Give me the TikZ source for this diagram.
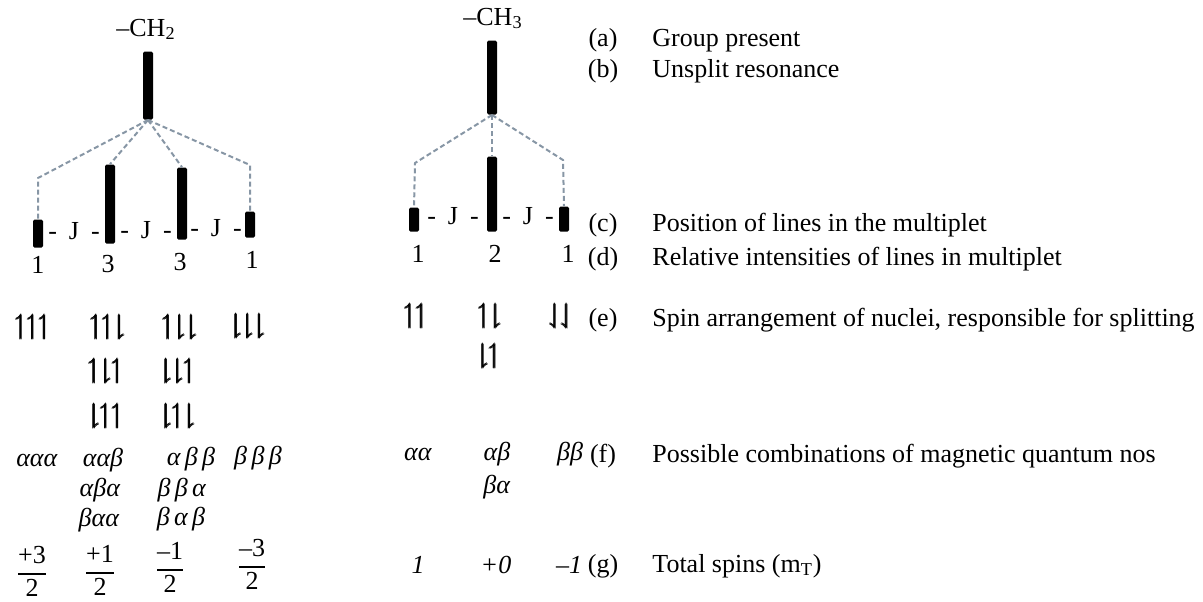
\documentclass[tikz,border=0pt]{standalone}
\usepackage{amsmath, amssymb}
\usepackage{fontspec}
\setmainfont{Liberation Serif}
\usetikzlibrary{calc}

\definecolor{linkgray}{RGB}{135,150,165}
\newcommand{\spU}{\pmb{\upharpoonleft}}
\newcommand{\spD}{\pmb{\downharpoonright}}
\newcommand{\spL}{\pmb{\downharpoonleft}}
\newcommand{\jlab}{-\hspace{6pt}J\hspace{6pt}-}

\tikzset{
  peak/.style={fill=black, rounded corners=0.8pt, inner sep=0pt, minimum width=5pt, anchor=south},
  link/.style={linkgray, line width=1pt, dash pattern=on 2.5pt off 1.5pt},
  txt/.style={font=\fontsize{13}{15}\selectfont, inner sep=0pt, text height=0.75em, text depth=0.25em},
  item/.style={txt, anchor=west},
  spin/.style={font=\fontsize{14}{16}\selectfont, inner sep=0pt},
}

\begin{document}
\begin{tikzpicture}[x=0.5pt, y=-0.5pt]
    \useasboundingbox (0,0) rectangle (1203,601);

    % -CH2 group: quartet
    \node[txt] (g2) at (146,31) {–CH\textsubscript{2}};
    \node[peak, minimum height=34pt] (u2) at (148,120) {};
    \node[peak, minimum height=14pt] (p21) at (38,248) {};
    \node[peak, minimum height=39.5pt] (p22) at (110,244) {};
    \node[peak, minimum height=36pt] (p23) at (182,240) {};
    \node[peak, minimum height=13pt] (p24) at (250,238) {};

    \coordinate (k21) at (38,178);
    \coordinate (k24) at (250,165);
    \draw[link] (u2.south) -- (k21) -- (p21.north);
    \draw[link] (u2.south) -- (p22.north);
    \draw[link] (u2.south) -- (p23.north);
    \draw[link] (u2.south) -- (k24) -- (p24.north);

    \node[txt] (j21) at (74,234) {\jlab};
    \node[txt] (j22) at (146,233) {\jlab};
    \node[txt] (j23) at (216,231) {\jlab};

    \node[txt] (i21) at (38,268) {1};
    \node[txt] (i22) at (108,267) {3};
    \node[txt] (i23) at (180,265) {3};
    \node[txt] (i24) at (252,263) {1};

    % -CH3 group: triplet
    \node[txt] (g3) at (493,20) {–CH\textsubscript{3}};
    \node[peak, minimum height=37pt] (u3) at (492,115) {};
    \node[peak, minimum height=12pt] (p31) at (414,232) {};
    \node[peak, minimum height=37.5pt] (p32) at (492,232) {};
    \node[peak, minimum height=12.5pt] (p33) at (564,232) {};

    \coordinate (k31) at (415,163);
    \coordinate (k33) at (563,160);
    \draw[link] (u3.south) -- (k31) -- (p31.north);
    \draw[link] (u3.south) -- (p32.north);
    \draw[link] (u3.south) -- (k33) -- (p33.north);

    \node[txt] (j31) at (453,219) {\jlab};
    \node[txt] (j32) at (528,219) {\jlab};

    \node[txt] (i31) at (418,257) {1};
    \node[txt] (i32) at (495,257) {2};
    \node[txt] (i33) at (568,257) {1};

    % spin arrangements
    \node[spin] (s1) at (33,327) {$\spU\spU\spU$};
    \node[spin] (s2) at (108,327) {$\spU\spU\spD$};
    \node[spin] (s3) at (180,327) {$\spU\spD\spD$};
    \node[spin] (s4) at (248,326) {$\spD\spD\spD$};
    \node[spin] (s5) at (106,371) {$\spU\spD\spU$};
    \node[spin] (s6) at (178,371) {$\spD\spD\spU$};
    \node[spin] (s7) at (106,416) {$\spD\spU\spU$};
    \node[spin] (s8) at (178,416) {$\spD\spU\spD$};

    \node[spin] (t1) at (416,316) {$\spU\spU$};
    \node[spin] (t2) at (490,316) {$\spU\spD$};
    \node[spin] (t3) at (561,316) {$\spL\spL$};
    \node[spin] (t4) at (489,356) {$\spD\spU$};

    % magnetic quantum numbers
    \node[txt] (m1) at (37,461) {\textit{ααα}};
    \node[txt] (m2) at (103,461) {\textit{ααβ}};
    \node[txt] (m3) at (191,460) {\textit{α\,β\,β}};
    \node[txt] (m4) at (258,459) {\textit{β\,β\,β}};
    \node[txt] (m5) at (100,491) {\textit{αβα}};
    \node[txt] (m6) at (182,491) {\textit{β\,β\,α}};
    \node[txt] (m7) at (99,521) {\textit{βαα}};
    \node[txt] (m8) at (181,520) {\textit{β\,α\,β}};

    \node[txt] (n1) at (418,455) {\textit{αα}};
    \node[txt] (n2) at (497,455) {\textit{αβ}};
    \node[txt] (n3) at (570,455) {\textit{ββ}};
    \node[txt] (n4) at (497,488) {\textit{βα}};

    % total spins
    \node[txt] (f1) at (32,575) {$\dfrac{\mbox{+3}}{\mbox{2}}$};
    \node[txt] (f2) at (100,574) {$\dfrac{\mbox{+1}}{\mbox{2}}$};
    \node[txt] (f3) at (170,571) {$\dfrac{\mbox{–1}}{\mbox{2}}$};
    \node[txt] (f4) at (252,568) {$\dfrac{\mbox{–3}}{\mbox{2}}$};

    \node[txt] (o1) at (418,568) {\textit{1}};
    \node[txt] (o2) at (496,568) {\textit{+0}};
    \node[txt] (o3) at (569,568) {\textit{–1}};

    % key
    \foreach \k/\y/\s in {a/41/{Group present}, b/72/{Unsplit resonance},
        c/226/{Position of lines in the multiplet},
        d/260/{Relative intensities of lines in multiplet},
        e/321/{Spin arrangement of nuclei, responsible for splitting},
        f/457/{Possible combinations of magnetic quantum nos},
        g/567/{Total spins (m\textsubscript{T})}} {
        \node[txt] (l\k) at (603,\y) {(\k)};
        \node[item] (d\k) at (652,\y) {\s};
    }
\end{tikzpicture}
\end{document}
